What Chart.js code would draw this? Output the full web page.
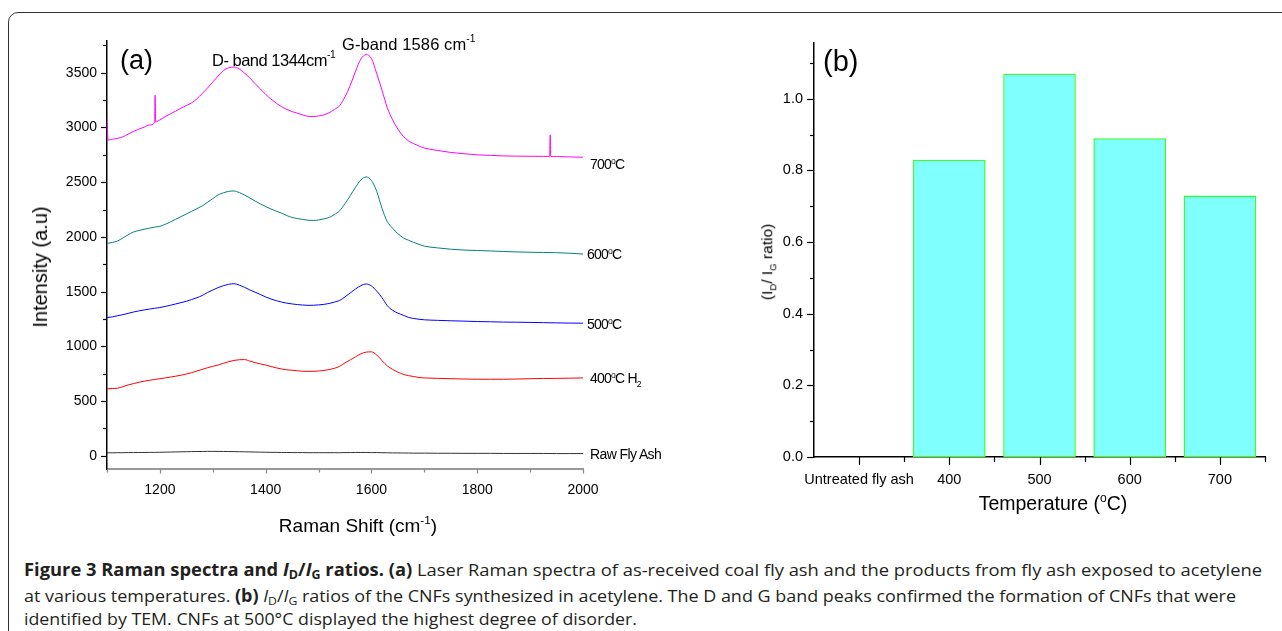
<!DOCTYPE html>
<html>
<head>
<meta charset="utf-8">
<script src="https://cdn.jsdelivr.net/npm/chart.js@4.4.0/dist/chart.umd.min.js"></script>
<style>
  body { margin: 0; background: #fff; }
  #page { position: relative; width: 1282px; height: 631px; overflow: hidden; background: #fff;
          font-family: "Liberation Sans", Arial, sans-serif; color: #000; }
  .box { position: absolute; left: 8px; top: 12px; width: 1330px; height: 700px;
         border: 1.5px solid #333; border-radius: 10px; }
  canvas { position: absolute; }
  .lbl { position: absolute; white-space: nowrap; line-height: 1; }
  .up { position: relative; font-size: 62%; }
  .dn { position: relative; font-size: 62%; }
  .cap { position: absolute; left: 24px; white-space: nowrap; line-height: 1;
         font-family: "Open Sans", "Noto Sans", sans-serif; font-size: 17px; color: #231f20;
         transform-origin: 0 0; }
  .cap b { font-weight: 700; }
  .cap sub { font-size: 68%; vertical-align: -0.22em; line-height: 0; }
</style>
</head>
<body>
<div id="page">
  <div class="box"></div>
  <canvas id="raman" width="700" height="545" style="left:0;top:0"></canvas>
  <canvas id="ratio" width="582" height="545" style="left:700px;top:0"></canvas>

  <!-- panel (a) text -->
  <div class="lbl" style="left:120px;top:47px;font-size:27px">(a)</div>
  <div class="lbl" style="left:212px;top:52px;font-size:16.5px;letter-spacing:-0.5px">D- band 1344cm<span class="up" style="top:-8px">-1</span></div>
  <div class="lbl" style="left:342px;top:35.5px;font-size:16.5px;letter-spacing:0.1px">G-band 1586 cm<span class="up" style="top:-8px">-1</span></div>
  <div class="lbl" style="left:590px;top:157px;font-size:14px;letter-spacing:-0.8px">700<span class="up" style="top:-5px">o</span>C</div>
  <div class="lbl" style="left:587px;top:246.5px;font-size:14px;letter-spacing:-0.8px">600<span class="up" style="top:-5px">o</span>C</div>
  <div class="lbl" style="left:587px;top:317px;font-size:14px;letter-spacing:-0.8px">500<span class="up" style="top:-5px">o</span>C</div>
  <div class="lbl" style="left:590px;top:370.5px;font-size:14px;letter-spacing:-0.8px">400<span class="up" style="top:-5px">o</span>C H<span class="dn" style="top:4px">2</span></div>
  <div class="lbl" style="left:590px;top:447px;font-size:14px;letter-spacing:-0.6px">Raw Fly Ash</div>
  <div class="lbl" style="left:358px;top:515.5px;font-size:19px;transform:translateX(-50%)">Raman Shift (cm<span class="up" style="top:-8px">-1</span>)</div>
  <div class="lbl" style="left:40px;top:267px;font-size:20px;transform:translate(-50%,-50%) rotate(-90deg)">Intensity (a.u)</div>

  <!-- panel (b) text -->
  <div class="lbl" style="left:823px;top:46.5px;font-size:29px">(b)</div>
  <div class="lbl" style="left:767px;top:262px;font-size:15.5px;transform:translate(-50%,-50%) rotate(-90deg)">(I<span class="dn" style="top:4px">D</span>/ I<span class="dn" style="top:4px">G</span> ratio)</div>
  <div class="lbl" style="left:1053px;top:493.5px;font-size:19.5px;transform:translateX(-50%)">Temperature (<span class="up" style="top:-8px">o</span>C)</div>

  <!-- caption -->
  <div class="cap" data-w="1238" style="top:561px"><b>Figure 3 Raman spectra and <i>I</i><sub>D</sub>/<i>I</i><sub>G</sub> ratios. (a)</b> Laser Raman spectra of as-received coal fly ash and the products from fly ash exposed to acetylene</div>
  <div class="cap" data-w="1212" style="top:587px">at various temperatures. <b>(b)</b> <i>I</i><sub>D</sub>/<i>I</i><sub>G</sub> ratios of the CNFs synthesized in acetylene. The D and G band peaks confirmed the formation of CNFs that were</div>
  <div class="cap" data-w="613" style="top:610px">identified by TEM. CNFs at 500°C displayed the highest degree of disorder.</div>
</div>

<script>
// Raman shift grid (cm-1)
const shift = [1100, 1110, 1120, 1130, 1140, 1150, 1160, 1170, 1180, 1190,
  1200, 1210, 1220, 1230, 1240, 1250, 1260, 1270, 1280, 1290,
  1300, 1310, 1320, 1330, 1340, 1350, 1360, 1370, 1380, 1390,
  1400, 1410, 1420, 1430, 1440, 1450, 1460, 1470, 1480, 1490,
  1500, 1510, 1520, 1530, 1540, 1550, 1560, 1570, 1580, 1590,
  1600, 1610, 1620, 1630, 1640, 1650, 1660, 1670, 1680, 1690,
  1700, 1725, 1750, 1775, 1800, 1825, 1850, 1875, 1900, 1925, 1950, 1975, 2000];

const c700 = [3080, 2893, 2900, 2915, 2940, 2964, 2984, 3003, 3023, 3043,
  3070, 3098, 3125, 3150, 3177, 3200, 3225, 3262, 3310, 3360,
  3415, 3470, 3520, 3545, 3552, 3535, 3497, 3452, 3400, 3352,
  3302, 3260, 3222, 3190, 3165, 3145, 3130, 3115, 3102, 3100,
  3105, 3115, 3135, 3165, 3200, 3280, 3385, 3515, 3625, 3666,
  3630, 3491, 3340, 3180, 3070, 2985, 2920, 2878, 2852, 2830,
  2812, 2790, 2772, 2760, 2750, 2745, 2740, 2738, 2737, 2736, 2734, 2731, 2728];
// narrow spikes on the 700 C trace
const spikeShift = [1102, 1191, 1192, 1937, 1938, 1939];
const spikeVals = [2885, 3295, 3050, 2736, 2932, 2736];

const c600 = [1940, 1950, 1963, 1990, 2020, 2045, 2058, 2070, 2080, 2090,
  2097, 2115, 2138, 2162, 2186, 2210, 2234, 2258, 2284, 2316,
  2350, 2384, 2403, 2416, 2420, 2405, 2383, 2356, 2328, 2302,
  2278, 2255, 2236, 2217, 2195, 2178, 2168, 2160, 2153, 2150,
  2155, 2165, 2178, 2205, 2240, 2305, 2377, 2455, 2520, 2548,
  2515, 2417, 2260, 2140, 2080, 2030, 1993, 1970, 1950, 1932,
  1916, 1900, 1888, 1880, 1876, 1872, 1867, 1863, 1860, 1858, 1856, 1851, 1844];

const c500 = [1263, 1270, 1280, 1290, 1302, 1314, 1324, 1333, 1341, 1348,
  1355, 1365, 1376, 1388, 1400, 1412, 1428, 1445, 1465, 1492,
  1515, 1537, 1555, 1567, 1573, 1560, 1540, 1516, 1495, 1474,
  1452, 1433, 1418, 1405, 1395, 1388, 1382, 1378, 1375, 1376,
  1379, 1384, 1392, 1405, 1420, 1452, 1489, 1525, 1555, 1570,
  1552, 1505, 1445, 1372, 1330, 1304, 1285, 1265, 1255, 1248,
  1243, 1238, 1234, 1231, 1227, 1225, 1222, 1221, 1219, 1217, 1215, 1213, 1212];

const c400 = [612, 615, 618, 632, 648, 660, 672, 682, 690, 698,
  705, 712, 720, 728, 737, 748, 760, 775, 790, 805,
  818, 830, 845, 860, 872, 878, 880, 866, 852, 840,
  830, 816, 804, 794, 786, 782, 777, 773, 772, 772,
  775, 780, 788, 800, 818, 850, 877, 905, 932, 948,
  950, 922, 870, 822, 790, 765, 745, 733, 725, 716,
  712, 708, 705, 702, 700, 700, 700, 702, 705, 707, 708, 710, 712];

const rawAsh = [28, 28, 29, 29, 30, 30, 31, 31, 32, 32,
  33, 34, 35, 36, 37, 38, 39, 40, 40, 41,
  41, 41, 40, 40, 39, 38, 37, 36, 35, 34,
  33, 32, 32, 31, 31, 30, 30, 30, 29, 29,
  29, 29, 29, 29, 29, 30, 30, 31, 31, 31,
  30, 30, 29, 28, 27, 27, 26, 26, 25, 25,
  25, 24, 24, 23, 23, 23, 22, 22, 22, 22, 21, 21, 21];

const yMajorA = [0, 500, 1000, 1500, 2000, 2500, 3000, 3500];
const yMinorA = [250, 750, 1250, 1750, 2250, 2750, 3250, 3750];
const xMajorA = [1200, 1400, 1600, 1800, 2000];
const xMinorA = [1100, 1300, 1500, 1700, 1900];

// panel (b)
const tempLabels = ['Untreated fly ash', '400', '500', '600', '700'];
const idigRatio = [0, 0.83, 1.07, 0.89, 0.73];
const yMajorB = [0, 0.2, 0.4, 0.6, 0.8, 1.0];
const yMinorB = [0.1, 0.3, 0.5, 0.7, 0.9, 1.1];

// draws major / minor tick marks through the chart's own scales
const tickMarks = {
  id: 'tickMarks',
  afterDraw(chart, args, opts) {
    const ctx = chart.ctx;
    ctx.save();
    ctx.lineWidth = 1.2;
    ['x', 'y'].forEach(id => {
      const o = opts[id];
      if (!o) return;
      const s = chart.scales[id];
      ctx.strokeStyle = o.color;
      const draw = (vals, len) => vals.forEach(v => {
        const p = Math.round(s.getPixelForValue(v)) + 0.5;
        ctx.beginPath();
        if (id === 'x') { ctx.moveTo(p, s.top); ctx.lineTo(p, s.top + len); }
        else { ctx.moveTo(s.right, p); ctx.lineTo(s.right - len, p); }
        ctx.stroke();
      });
      draw(o.major, o.majorLen);
      draw(o.minor, o.minorLen);
    });
    ctx.restore();
  }
};

const pts = vals => shift.map((x, i) => ({ x: x, y: vals[i] }));
const trace700 = pts(c700)
  .concat(spikeShift.map((x, i) => ({ x: x, y: spikeVals[i] })))
  .sort((a, b) => a.x - b.x);

const line = (data, color) => ({
  data: data, borderColor: color, borderWidth: 1, pointRadius: 0,
  cubicInterpolationMode: 'monotone', fill: false
});

const tickFontA = { family: '"Liberation Sans", Arial, sans-serif', size: 14 };

new Chart(document.getElementById('raman'), {
  type: 'line',
  data: {
    datasets: [
      line(trace700, '#ff00ff'),
      line(pts(c600), '#008080'),
      line(pts(c500), '#0000ff'),
      line(pts(c400), '#ff0000'),
      line(pts(rawAsh), '#333333')
    ]
  },
  options: {
    responsive: false,
    animation: false,
    devicePixelRatio: 1,
    layout: { padding: { left: 0, right: 117, top: 41, bottom: 46 } },
    plugins: {
      legend: { display: false },
      tooltip: { enabled: false },
      tickMarks: {
        x: { color: '#888', major: xMajorA, minor: xMinorA, majorLen: 4.5, minorLen: 3.5 },
        y: { color: '#000', major: yMajorA, minor: yMinorA, majorLen: 6, minorLen: 4 }
      }
    },
    scales: {
      x: {
        type: 'linear', min: 1100, max: 2000,
        afterBuildTicks: s => { s.ticks = xMajorA.map(v => ({ value: v })); },
        afterFit: s => { s.height = 30; },
        grid: { display: false, drawTicks: false },
        border: { display: true, color: '#999', width: 2 },
        ticks: { color: '#000', font: tickFontA, padding: 13, maxRotation: 0, autoSkip: false,
                 callback: v => String(v) }
      },
      y: {
        min: -120, max: 3790,
        afterBuildTicks: s => { s.ticks = yMajorA.map(v => ({ value: v })); },
        afterFit: s => { s.width = 107; },
        grid: { display: false, drawTicks: false },
        border: { display: true, color: '#000', width: 1.5 },
        ticks: { color: '#000', font: tickFontA, padding: 10, autoSkip: false,
                 callback: v => String(v) }
      }
    }
  },
  plugins: [tickMarks]
});

const tickFontB = { family: '"Liberation Sans", Arial, sans-serif', size: 14.5 };

new Chart(document.getElementById('ratio'), {
  type: 'bar',
  data: {
    labels: tempLabels,
    datasets: [{
      data: idigRatio,
      backgroundColor: '#80ffff',
      borderColor: '#33ff33',
      borderWidth: 1.5,
      borderSkipped: false,
      categoryPercentage: 1.0,
      barPercentage: 0.805
    }]
  },
  options: {
    responsive: false,
    animation: false,
    devicePixelRatio: 1,
    layout: { padding: { left: 0, right: 17, top: 43, bottom: 58 } },
    plugins: {
      legend: { display: false },
      tooltip: { enabled: false },
      tickMarks: {
        x: { color: '#000', major: tempLabels.map((_, i) => i),
             minor: tempLabels.map((_, i) => i + 0.5), majorLen: 8, minorLen: 5 },
        y: { color: '#000', major: yMajorB, minor: yMinorB, majorLen: 7, minorLen: 4 }
      }
    },
    scales: {
      x: {
        afterFit: s => { s.height = 30; },
        grid: { display: false, drawTicks: false },
        border: { display: true, color: '#000', width: 1.5 },
        ticks: { color: '#000', font: tickFontB, padding: 14, maxRotation: 0, autoSkip: false }
      },
      y: {
        min: 0, max: 1.156,
        afterBuildTicks: s => { s.ticks = yMajorB.map(v => ({ value: v })); },
        afterFit: s => { s.width = 114; },
        grid: { display: false, drawTicks: false },
        border: { display: true, color: '#000', width: 1.5 },
        ticks: { color: '#000', font: tickFontB, padding: 11, autoSkip: false,
                 callback: v => v.toFixed(1) }
      }
    }
  },
  plugins: [tickMarks]
});

// squeeze caption lines to the width they take in the figure
document.querySelectorAll('.cap').forEach(el => {
  const w = el.getBoundingClientRect().width;
  el.style.transform = 'scaleX(' + (Number(el.dataset.w) / w) + ')';
});
</script>
</body>
</html>
